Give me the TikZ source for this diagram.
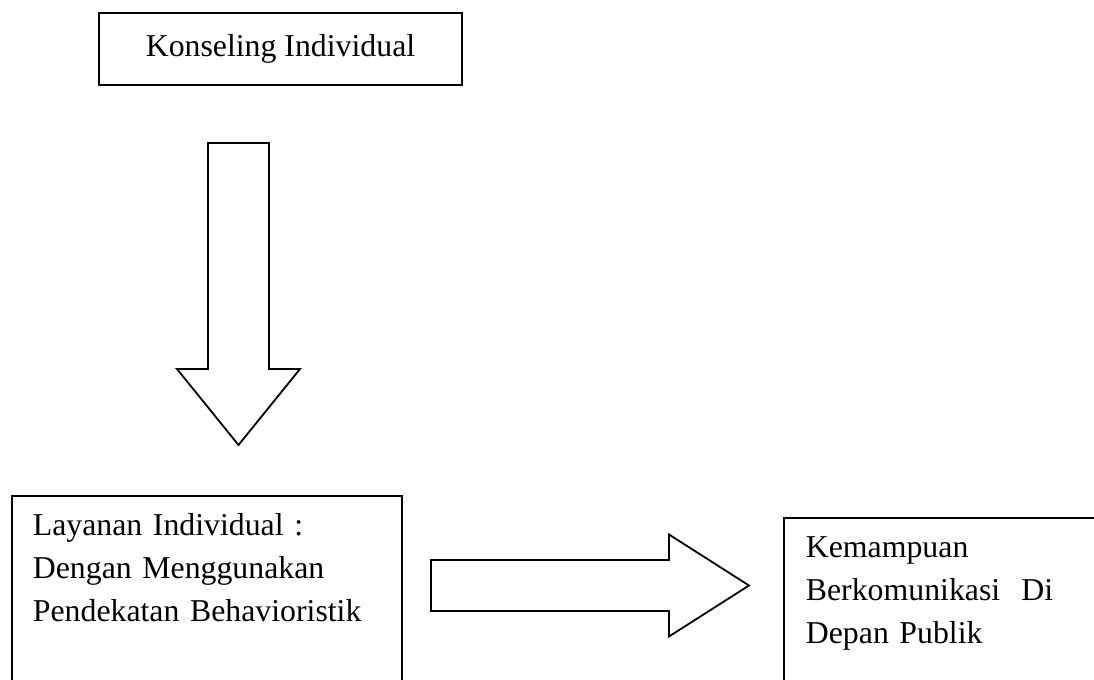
\documentclass[tikz,border=0pt]{standalone}
\usepackage{fontspec}
\setmainfont{Liberation Serif}
\usetikzlibrary{calc}
\tikzset{
    flowbox/.style={
        draw=black, line width=0.9pt,
        font=\fontsize{15.9}{21.5}\selectfont,
        inner sep=0pt
    },
    textbox/.style={
        flowbox, anchor=north west, align=left,
        inner xsep=10.5pt, inner ysep=10pt,
        text height=10pt, text depth=200pt
    },
    blockarrow/.style={
        draw=black, line width=0.9pt, fill=white, line join=miter
    },
}
\begin{document}
\begin{tikzpicture}[x=0.5pt, y=-0.5pt]
\useasboundingbox (0,0) rectangle (1094,680);

% ---- Top: konseling ----
\node[flowbox, minimum width=181.5pt, minimum height=36pt]
    (konseling) at (280.5,49) {Konseling Individual};

% ---- Bottom: layanan and kemampuan ----
\node[textbox, text width=174pt] (layanan) at (11,495)
    {Layanan Individual :\\Dengan Menggunakan\\Pendekatan Behavioristik};
\node[textbox, text width=170pt, inner xsep=11pt] (kemampuan) at (783,517)
    {Kemampuan\\Berkomunikasi\ \ Di\\Depan Publik};

% ---- Block arrows ----
\coordinate (down-tail) at (238.5,143);
\coordinate (down-tip)  at (238.5,445);
\draw[blockarrow] ($(down-tail)+(-30.5,0)$) -- ($(down-tip)+(-30.5,-76)$)
    -- ($(down-tip)+(-61.5,-76)$) -- (down-tip) -- ($(down-tip)+(61.5,-76)$)
    -- ($(down-tip)+(30.5,-76)$) -- ($(down-tail)+(30.5,0)$) -- cycle;

\coordinate (right-tail) at (431,585.5);
\coordinate (right-tip)  at (749,585.5);
\draw[blockarrow] ($(right-tail)+(0,-25.5)$) -- ($(right-tip)+(-80,-25.5)$)
    -- ($(right-tip)+(-80,-51)$) -- (right-tip) -- ($(right-tip)+(-80,51)$)
    -- ($(right-tip)+(-80,25.5)$) -- ($(right-tail)+(0,25.5)$) -- cycle;

\end{tikzpicture}
\end{document}
